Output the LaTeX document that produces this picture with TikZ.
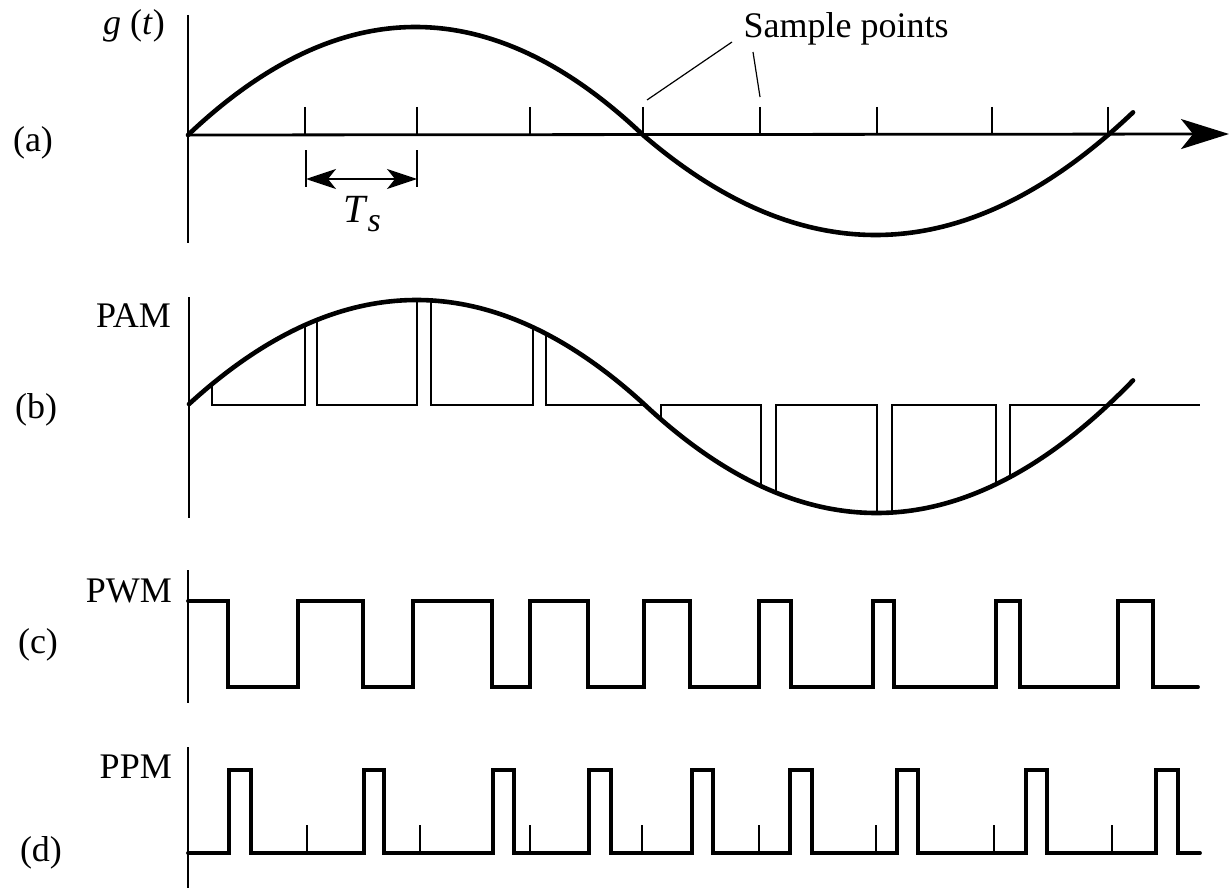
\documentclass[tikz,border=0pt]{standalone}
\usepackage{fontspec}
\setmainfont{Liberation Serif}
\usetikzlibrary{arrows.meta}
\begin{document}
\begin{tikzpicture}[x=1pt,y=-1pt,
  declare function={
    pa(\x)=(\x<643) ? (135-108*(1-((\x-415.5)/227.5)^2)) : (135+100*(1-((\x-875.5)/232.5)^2));
    pb(\x)=(\x<645) ? (405-105*(1-((\x-416.5)/228.5)^2)) : (405+108*(1-((\x-876.5)/231.5)^2));
  },
  lbl/.style={font=\fontsize{36}{40}\selectfont, inner sep=0pt},
  axisline/.style={line width=2.8pt},
  curve/.style={line width=4.6pt, line cap=round},
  thin/.style={line width=1.6pt},
  strip/.style={line width=2pt},
  pulse/.style={line width=3.8pt, line cap=round},
  leader/.style={line width=1.2pt},
  bigtip/.style={-{Stealth[length=48pt,width=30pt,inset=12pt]}},
  smalltips/.style={{Stealth[length=30pt,width=20pt,inset=8pt]}-{Stealth[length=30pt,width=20pt,inset=8pt]}}
]
\useasboundingbox (0,0) rectangle (1230,888);

% ---------- (a) ----------
\node[lbl] (la) at (33,143) {(a)};
\node[lbl] (gt) at (134,26) {\textit{g} (\textit{t})};
\draw[axisline] (188,15) -- (188,243);
\draw[axisline,bigtip] (188,135) -- (1229,134);
\foreach \t in {305,417,530,643,760,877,992,1108}
  \draw[thin] (\t,107) -- (\t,135);
\draw[curve] plot[domain=188:1133,samples=240] (\x,{pa(\x)});
% Ts
\draw[thin] (306,150) -- (306,187);
\draw[thin] (417,150) -- (417,187);
\draw[thin,smalltips] (306,179) -- (417,179);
\node[inner sep=0pt] (ts) at (362,214) {\fontsize{40}{44}\selectfont\textit{T}\raisebox{-9pt}{\fontsize{34}{36}\selectfont\textit{s}}};
% Sample points
\node[lbl,anchor=base] (sp) at (846,38) {Sample points};
\coordinate (sp1) at (732,42);
\coordinate (sp2) at (753,52);
\coordinate (sq1) at (647,100);
\coordinate (sq2) at (760,97);
\draw[leader] (sp1) -- (sq1);
\draw[leader] (sp2) -- (sq2);

% ---------- (b) ----------
\node[lbl] (lb) at (36,410) {(b)};
\node[lbl,anchor=base east] (pam) at (171,327) {PAM};
\draw[axisline] (189,297) -- (189,518);
\draw[strip] (212,{pb(212)}) -- (212,405) -- (305,405) -- (305,{pb(305)});
\draw[strip] (317,{pb(317)}) -- (317,405) -- (417,405) -- (417,{pb(417)});
\draw[strip] (431,{pb(431)}) -- (431,405) -- (533,405) -- (533,{pb(533)});
\draw[strip] (546,{pb(546)}) -- (546,405) -- (645,405);
\draw[strip] (661,{pb(661)}) -- (661,405) -- (761,405) -- (761,{pb(761)});
\draw[strip] (776,{pb(776)}) -- (776,405) -- (877,405) -- (877,{pb(877)});
\draw[strip] (892,{pb(892)}) -- (892,405) -- (996,405) -- (996,{pb(996)});
\draw[strip] (1010,{pb(1010)}) -- (1010,405) -- (1200,405);
\draw[curve] plot[domain=189:1133,samples=240] (\x,{pb(\x)});

% ---------- (c) ----------
\node[lbl] (lc) at (38,645) {(c)};
\node[lbl,anchor=base east] (pwm) at (172,602) {PWM};
\draw[axisline] (188,570) -- (188,703);
\draw[pulse] (188,601) -| (228,687) -| (298,601) -| (363,687) -| (413,601) -| (492,687)
  -| (530,601) -| (588,687) -| (644,601) -| (690,687) -| (759,601) -| (791,687)
  -| (873,601) -| (894,687) -| (996,601) -| (1020,687) -| (1118,601) -| (1153,687) -- (1198,687);

% ---------- (d) ----------
\node[lbl] (ld) at (41,853) {(d)};
\node[lbl,anchor=base east] (ppm) at (172,778) {PPM};
\draw[axisline] (188,747) -- (188,888);
\foreach \t in {307,420,530,642,759,876,994,1112}
  \draw[thin] (\t,825) -- (\t,853);
\draw[pulse] (188,853) -| (229,770) -| (251,853) -| (364,770) -| (384,853) -| (493,770)
  -| (514,853) -| (589,770) -| (611,853) -| (692,770) -| (713,853) -| (790,770)
  -| (812,853) -| (897,770) -| (918,853) -| (1026,770) -| (1047,853) -| (1156,770)
  -| (1178,853) -- (1200,853);
\end{tikzpicture}
\end{document}
